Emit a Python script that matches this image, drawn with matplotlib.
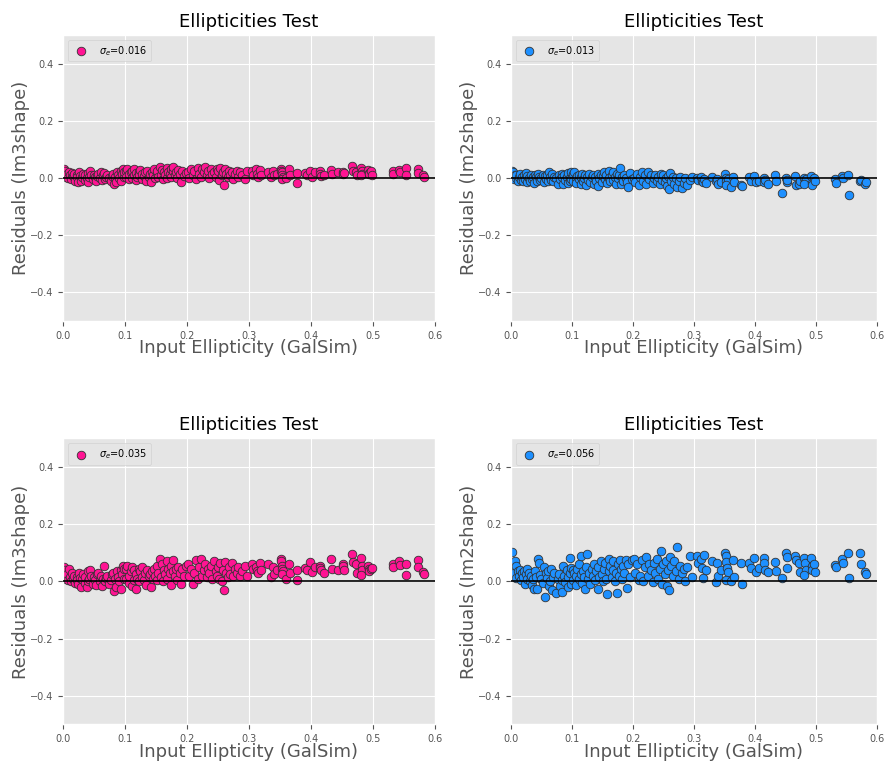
import matplotlib
matplotlib.use("Agg")
import matplotlib.pyplot as plt

# input ellipticities from GalSim (same galaxies in every panel)
e_input = [
    # 0.0 - 0.1
    0.001, 0.002, 0.003, 0.004, 0.005, 0.006, 0.008, 0.009, 0.011, 0.013,
    0.015, 0.016, 0.018, 0.020, 0.022, 0.023, 0.025, 0.026, 0.027, 0.029,
    0.031, 0.033, 0.035, 0.036, 0.038, 0.040, 0.041, 0.042, 0.044, 0.046,
    0.048, 0.050, 0.052, 0.054, 0.055, 0.057, 0.059, 0.061, 0.063, 0.064,
    0.066, 0.067, 0.069, 0.071, 0.074, 0.077, 0.079, 0.081, 0.083, 0.084,
    0.086, 0.087, 0.089, 0.091, 0.093, 0.094, 0.096, 0.097, 0.098, 0.099,
    # 0.1 - 0.2
    0.101, 0.102, 0.104, 0.106, 0.107, 0.109, 0.111, 0.112, 0.114, 0.115,
    0.117, 0.118, 0.120, 0.122, 0.123, 0.125, 0.127, 0.128, 0.130, 0.132,
    0.134, 0.136, 0.138, 0.140, 0.142, 0.143, 0.145, 0.147, 0.149, 0.151,
    0.152, 0.154, 0.156, 0.158, 0.160, 0.161, 0.163, 0.165, 0.167, 0.168,
    0.170, 0.172, 0.174, 0.175, 0.177, 0.178, 0.180, 0.182, 0.184, 0.186,
    0.188, 0.190, 0.192, 0.195, 0.198,
    # 0.2 - 0.3
    0.201, 0.204, 0.207, 0.210, 0.212, 0.215, 0.217, 0.220, 0.222, 0.224,
    0.227, 0.229, 0.232, 0.234, 0.236, 0.239, 0.241, 0.244, 0.246, 0.248,
    0.250, 0.252, 0.254, 0.256, 0.258, 0.259, 0.261, 0.263, 0.266, 0.268,
    0.270, 0.272, 0.275, 0.277, 0.280, 0.283, 0.286, 0.289, 0.293, 0.296,
    # 0.3 - 0.6
    0.305, 0.307, 0.312, 0.313, 0.315, 0.317, 0.319, 0.330, 0.336, 0.338,
    0.340, 0.345, 0.351, 0.352, 0.353, 0.354, 0.355, 0.353, 0.360, 0.364,
    0.366, 0.377, 0.378, 0.391, 0.393, 0.399, 0.401, 0.407, 0.414, 0.415,
    0.416, 0.421, 0.432, 0.434, 0.444, 0.451, 0.452, 0.453, 0.466, 0.468,
    0.472, 0.474, 0.481, 0.482, 0.483, 0.481, 0.492, 0.493, 0.494, 0.497,
    0.499, 0.532, 0.533, 0.542, 0.544, 0.553, 0.554, 0.572, 0.573, 0.580,
    0.582,
]

# residuals, run 1 (im3shape)
res_im3_a = [
    0.030, 0.020, 0.010, 0.025, 0.005, 0.015, 0.000, 0.022, 0.010, -0.005,
    0.018, 0.008, 0.015, -0.010, 0.012, 0.002, -0.015, 0.020, 0.008, -0.012,
    0.005, 0.015, -0.008, 0.010, 0.000, -0.015, 0.018, 0.005, 0.025, 0.010,
    -0.005, 0.012, 0.002, -0.010, 0.008, 0.015, 0.000, 0.020, -0.008, 0.010,
    0.018, -0.005, 0.005, 0.012, 0.000, -0.010, 0.008, 0.015, -0.020, 0.005,
    -0.015, 0.020, 0.010, 0.000, 0.025, -0.012, 0.015, 0.030, 0.005, 0.020,
    0.025, 0.005, 0.030, -0.005, 0.015, 0.020, 0.000, 0.025, 0.010, 0.030,
    -0.008, 0.018, 0.005, 0.022, 0.012, 0.028, -0.005, 0.015, 0.008, 0.020,
    -0.010, 0.025, 0.005, 0.015, -0.015, 0.020, 0.010, 0.030, 0.000, 0.018,
    0.025, 0.005, 0.040, 0.012, 0.028, -0.002, 0.020, 0.010, 0.035, 0.000,
    0.022, 0.015, 0.030, 0.005, 0.025, 0.040, 0.010, 0.020, 0.000, 0.028,
    0.015, -0.015, 0.025, 0.008, 0.018,
    0.020, 0.000, 0.030, 0.010, 0.025, -0.005, 0.035, 0.015, 0.005, 0.030,
    0.020, 0.038, 0.010, 0.025, 0.000, 0.030, 0.015, 0.020, 0.005, 0.030,
    0.025, -0.008, 0.035, 0.010, 0.020, -0.025, 0.030, 0.015, 0.005, 0.025,
    0.010, 0.020, -0.002, 0.015, 0.025, 0.005, 0.020, 0.010, -0.005, 0.025,
    0.025, 0.010, 0.030, 0.015, 0.005, 0.028, 0.012, 0.020, 0.005, 0.025,
    0.010, 0.015, 0.030, 0.025, 0.020, 0.010, 0.005, -0.005, 0.000, 0.030,
    0.012, 0.019, -0.016, 0.019, 0.010, 0.025, 0.005, 0.020, 0.025, 0.015,
    0.008, 0.010, 0.028, 0.015, 0.020, 0.020, 0.015, 0.018, 0.042, 0.025,
    0.020, 0.012, 0.035, 0.025, 0.015, 0.010, 0.028, 0.018, 0.015, 0.025,
    0.012, 0.025, 0.015, 0.027, 0.020, 0.035, 0.010, 0.030, 0.018, 0.010,
    0.002,
]

# residuals, run 1 (im2shape)
res_im2_a = [
    0.025, 0.015, 0.005, 0.020, -0.005, 0.010, 0.000, 0.012, -0.010, 0.005,
    0.015, -0.008, 0.002, -0.012, 0.010, -0.003, 0.018, -0.015, 0.008, 0.000,
    -0.010, 0.012, -0.005, 0.005, -0.018, 0.010, 0.002, -0.012, 0.015, 0.005,
    -0.008, 0.000, 0.012, -0.015, 0.008, -0.003, 0.010, -0.010, 0.020, 0.002,
    -0.008, 0.015, -0.012, 0.005, 0.000, -0.020, 0.010, -0.005, 0.015, 0.002,
    -0.022, 0.012, -0.008, 0.005, -0.018, 0.018, 0.000, -0.010, 0.020, -0.005,
    0.015, -0.010, 0.020, 0.000, -0.018, 0.008, -0.005, 0.012, -0.022, 0.005,
    0.015, -0.012, 0.000, 0.010, -0.025, 0.005, -0.008, 0.015, -0.015, 0.002,
    0.012, -0.020, 0.005, -0.010, 0.015, -0.028, 0.000, 0.010, -0.015, 0.008,
    0.020, -0.005, 0.012, -0.018, 0.025, 0.000, -0.012, 0.010, 0.020, -0.008,
    0.005, -0.020, 0.015, 0.000, 0.010, 0.035, -0.022, 0.005, -0.010, 0.012,
    0.000, -0.015, -0.030, 0.018, -0.005,
    0.000, -0.015, 0.015, -0.025, 0.005, 0.022, -0.010, 0.010, -0.020, 0.020,
    -0.005, 0.012, -0.018, 0.000, 0.010, -0.012, 0.005, -0.022, 0.015, -0.008,
    0.010, -0.015, 0.000, -0.028, 0.008, -0.040, 0.018, -0.010, 0.002, -0.020,
    0.000, -0.030, -0.012, 0.005, -0.035, -0.018, 0.000, -0.025, -0.008, 0.002,
    0.000, -0.008, 0.002, -0.012, -0.015, -0.005, -0.018, 0.003, -0.010, -0.005,
    -0.022, -0.014, 0.014, 0.000, -0.010, -0.020, -0.005, -0.025, -0.032, 0.005,
    -0.014, -0.023, -0.029, 0.004, -0.010, 0.006, -0.014, -0.010, 0.000, -0.014,
    -0.008, -0.020, 0.012, -0.012, -0.053, 0.000, -0.014, -0.008, 0.006, -0.023,
    -0.020, -0.010, 0.000, -0.014, -0.005, -0.020, 0.007, -0.018, -0.026, 0.000,
    -0.012, -0.005, -0.018, 0.006, 0.000, 0.012, -0.058, -0.012, -0.008, -0.020,
    -0.015,
]

# residuals, run 2 (im3shape)
res_im3_b = [
    0.050, 0.035, 0.020, 0.040, 0.010, 0.025, 0.005, 0.045, 0.015, 0.000,
    0.030, 0.010, 0.020, -0.005, 0.015, 0.005, -0.010, 0.030, 0.012, -0.018,
    0.008, 0.025, -0.005, 0.015, -0.020, 0.002, 0.035, 0.010, 0.040, 0.020,
    -0.008, 0.015, 0.005, -0.012, 0.025, 0.030, 0.002, 0.018, -0.015, 0.010,
    0.055, 0.000, 0.012, 0.020, -0.010, 0.005, 0.025, 0.030, -0.032, 0.010,
    -0.020, 0.035, 0.015, 0.000, 0.040, -0.028, 0.025, 0.055, 0.010, 0.045,
    0.045, 0.010, 0.055, -0.005, 0.020, 0.035, -0.015, 0.050, 0.005, 0.040,
    -0.025, 0.025, 0.010, 0.045, 0.000, 0.035, 0.015, 0.050, 0.005, 0.030,
    -0.012, 0.040, 0.020, 0.025, -0.018, 0.035, 0.010, 0.045, 0.020, 0.005,
    0.055, 0.030, 0.080, 0.015, 0.060, 0.000, 0.040, 0.025, 0.070, 0.010,
    0.045, 0.030, 0.055, -0.012, 0.035, 0.075, 0.020, 0.045, 0.005, 0.050,
    0.030, -0.008, 0.045, 0.020, 0.055,
    0.060, 0.020, 0.045, -0.008, 0.030, 0.075, 0.010, 0.050, 0.078, 0.020,
    0.040, 0.060, 0.015, 0.045, 0.030, 0.055, 0.010, 0.070, 0.035, 0.020,
    0.050, 0.010, 0.065, 0.000, 0.040, -0.030, 0.068, 0.030, 0.015, 0.050,
    0.025, 0.065, 0.020, 0.045, 0.030, 0.050, 0.020, 0.035, 0.055, 0.018,
    0.060, 0.045, 0.050, 0.035, 0.030, 0.065, 0.040, 0.060, 0.015, 0.050,
    0.025, 0.040, 0.080, 0.070, 0.055, 0.045, 0.035, 0.025, 0.008, 0.060,
    0.030, 0.041, 0.006, 0.047, 0.040, 0.067, 0.032, 0.050, 0.053, 0.047,
    0.040, 0.029, 0.078, 0.045, 0.041, 0.061, 0.055, 0.040, 0.096, 0.068,
    0.060, 0.030, 0.082, 0.053, 0.040, 0.023, 0.055, 0.045, 0.035, 0.044,
    0.048, 0.061, 0.049, 0.072, 0.058, 0.061, 0.021, 0.076, 0.049, 0.033,
    0.026,
]

# residuals, run 2 (im2shape)
res_im2_b = [
    0.103, 0.045, 0.062, 0.020, 0.030, 0.070, 0.012, 0.055, 0.035, 0.018,
    0.040, 0.005, 0.028, 0.015, 0.038, -0.008, 0.025, 0.045, 0.010, 0.030,
    0.002, 0.018, -0.012, 0.008, -0.025, 0.035, 0.015, -0.028, 0.078, 0.065,
    0.022, 0.008, -0.005, 0.050, -0.053, 0.028, 0.012, 0.038, -0.015, 0.002,
    0.045, -0.030, 0.015, 0.030, -0.040, 0.010, 0.025, -0.015, 0.005, -0.036,
    0.055, 0.020, -0.002, 0.040, 0.015, -0.020, 0.082, 0.030, -0.010, 0.048,
    0.040, 0.005, 0.030, -0.012, 0.020, 0.045, 0.010, 0.060, 0.025, 0.088,
    -0.005, 0.035, 0.015, -0.025, 0.050, 0.095, 0.008, 0.030, -0.010, 0.045,
    0.020, 0.060, 0.005, 0.035, -0.028, 0.050, 0.015, 0.070, 0.025, 0.000,
    0.045, 0.065, 0.010, -0.044, 0.080, 0.035, 0.055, 0.015, 0.040, 0.070,
    0.000, 0.030, -0.041, 0.060, 0.020, 0.075, 0.045, 0.010, 0.055, 0.030,
    0.075, -0.022, 0.060, 0.015, 0.075,
    0.080, 0.030, 0.060, 0.005, 0.020, 0.075, 0.000, 0.050, 0.085, 0.020,
    0.060, 0.040, -0.002, 0.065, 0.030, 0.080, 0.010, 0.045, 0.105, -0.008,
    0.060, 0.025, 0.070, -0.015, 0.040, -0.029, 0.085, 0.055, 0.020, 0.070,
    0.035, 0.122, 0.010, 0.055, 0.030, 0.045, 0.000, 0.050, 0.088, 0.015,
    0.088, 0.064, 0.078, 0.047, 0.012, 0.092, 0.041, 0.070, -0.002, 0.064,
    0.018, 0.041, 0.099, 0.088, 0.067, 0.047, 0.033, 0.006, 0.000, 0.076,
    0.014, 0.064, -0.009, 0.064, 0.047, 0.082, 0.033, 0.047, 0.082, 0.064,
    0.039, 0.033, 0.067, 0.036, 0.011, 0.099, 0.085, 0.047, 0.088, 0.074,
    0.064, 0.032, 0.082, 0.064, 0.041, 0.023, 0.082, 0.053, 0.039, 0.061,
    0.033, 0.056, 0.049, 0.078, 0.064, 0.099, 0.011, 0.099, 0.061, 0.033,
    0.026,
]

sigmas = [0.016, 0.013, 0.035, 0.056]
codes = ["Im3shape", "Im2shape", "Im3shape", "Im2shape"]
colours = ["#ff1493", "#1e90ff", "#ff1493", "#1e90ff"]
residuals = [res_im3_a, res_im2_a, res_im3_b, res_im2_b]

plt.style.use("ggplot")
fig = plt.figure(figsize=(8.87, 7.63), dpi=100)

# axes boxes [left, bottom, width, height]
boxes = [
    [0.0710, 0.5793, 0.4194, 0.3748],
    [0.5761, 0.5793, 0.4126, 0.3748],
    [0.0710, 0.0505, 0.4194, 0.3748],
    [0.5761, 0.0505, 0.4126, 0.3748],
]

for box, res, sig, code, col in zip(boxes, residuals, sigmas, codes, colours):
    ax = fig.add_axes(box)
    ax.scatter(e_input, res, s=38, c=col, edgecolors="#333333",
               linewidths=0.6, label=r"$\sigma_e$=%.3f" % sig, zorder=2)
    ax.axhline(0, color="black", lw=1.4, alpha=0.85, zorder=3)
    ax.set_xlim(0, 0.6)
    ax.set_ylim(-0.5, 0.5)
    ax.set_yticks([-0.4, -0.2, 0.0, 0.2, 0.4])
    ax.tick_params(labelsize=7, colors="#555555")
    ax.set_title("Ellipticities Test", fontsize=13, color="black")
    ax.set_xlabel("Input Ellipticity (GalSim)", fontsize=13, color="#555555",
                  labelpad=-1)
    ax.set_ylabel("Residuals (%s)" % code, fontsize=13, color="#555555",
                  labelpad=0)
    ax.legend(loc="upper left", fontsize=7, scatterpoints=1)

fig.savefig("out.png", dpi=100)
